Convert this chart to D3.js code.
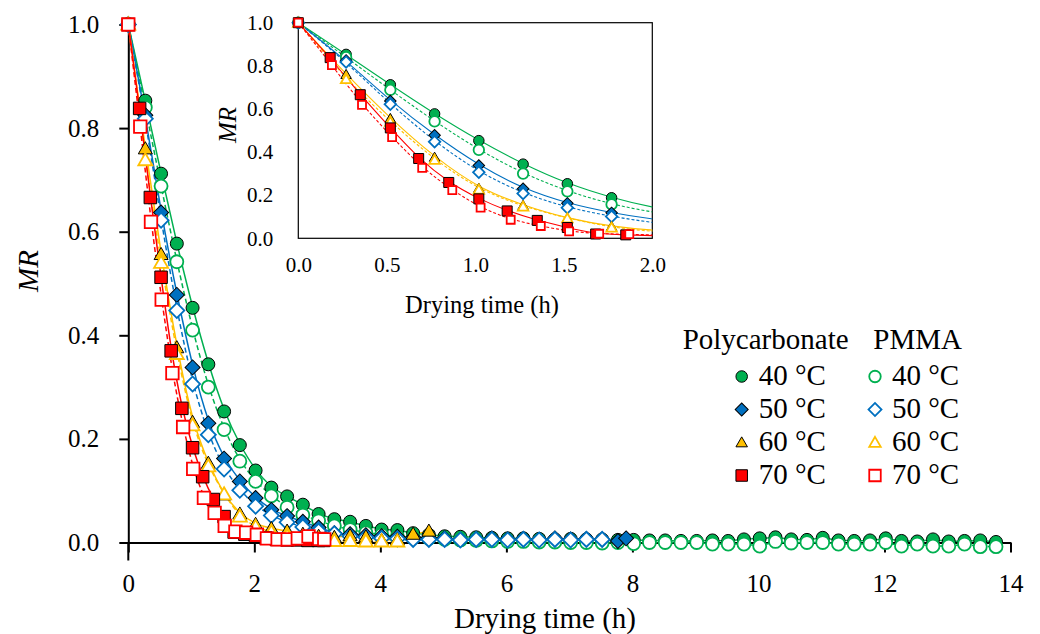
<!DOCTYPE html>
<html>
<head>
<meta charset="utf-8">
<script src="https://cdn.jsdelivr.net/npm/d3@7/dist/d3.min.js"></script>
<style>
  body { margin: 0; background: #fff; }
  svg text { font-family: "Liberation Serif", serif; fill: #000; }
</style>
</head>
<body>
<svg id="chart" width="1040" height="634"></svg>
<script>
// ---- data (drying time in h, moisture ratio MR) ----
var t40 = [0, 0.27, 0.52, 0.77, 1.02, 1.27, 1.52, 1.77, 2.02, 2.27, 2.52, 2.77, 3.02, 3.27, 3.52, 3.77,
  4.02, 4.27, 4.52, 4.77, 5.02, 5.27, 5.52, 5.77, 6.02, 6.27, 6.52, 6.77, 7.02, 7.27, 7.52, 7.77,
  8.02, 8.27, 8.52, 8.77, 9.02, 9.27, 9.52, 9.77, 10.02, 10.27, 10.52, 10.77, 11.02, 11.27, 11.52, 11.77,
  12.02, 12.27, 12.52, 12.77, 13.02, 13.27, 13.52, 13.77];
var mrPc40 = [1, 0.853, 0.712, 0.577, 0.453, 0.344, 0.253, 0.188, 0.139, 0.106, 0.089, 0.073, 0.055, 0.045, 0.040, 0.032,
  0.025, 0.024, 0.018, 0.015, 0.012, 0.011, 0.010, 0.009, 0.008, 0.008, 0.007, 0.006, 0.007, 0.006, 0.006, 0.005,
  0.005, 0.004, 0.004, 0.003, 0.003, 0.004, 0.003, 0.006, 0.008, 0.010, 0.006, 0.005, 0.009, 0.004, 0.003, 0.004,
  0.008, 0.003, 0.002, 0.006, 0.002, 0.003, 0.004, 0.001];
var mrPm40 = [1, 0.840, 0.688, 0.542, 0.410, 0.300, 0.218, 0.157, 0.118, 0.090, 0.068, 0.053, 0.042, 0.032, 0.025, 0.019,
  0.015, 0.012, 0.010, 0.008, 0.006, 0.005, 0.004, 0.003, 0.002, 0.002, 0.001, 0.001, 0.000, 0.000, -0.001, 0.000,
  -0.002, 0.000, 0.000, 0.000, 0.000, -0.003, -0.003, -0.003, -0.007, 0.002, -0.001, 0.000, 0.000, -0.003, -0.003, -0.003,
  0.000, -0.007, -0.003, -0.007, -0.007, -0.003, -0.008, -0.008];

var tPc50 = [0, 0.27, 0.52, 0.77, 1.02, 1.27, 1.52, 1.77, 2.02, 2.27, 2.52, 2.77, 3.02, 3.27, 3.52, 3.77,
  4.02, 4.27, 4.52, 4.77, 5.02, 5.27, 5.52, 5.77, 6.02, 6.27, 6.52, 6.77, 7.02, 7.27, 7.52, 7.77, 7.90];
var mrPc50 = [1, 0.825, 0.637, 0.478, 0.338, 0.230, 0.162, 0.118, 0.086, 0.063, 0.051, 0.040, 0.029, 0.018, 0.016, 0.014,
  0.012, 0.011, 0.010, 0.009, 0.008, 0.005, 0.006, 0.008, 0.006, 0.007, 0.005, 0.008, 0.006, 0.007, 0.006, 0.003, 0.008];
var tPm50 = [0, 0.27, 0.52, 0.77, 1.02, 1.27, 1.52, 1.77, 2.02, 2.27, 2.52, 2.77, 3.02, 3.27, 3.52, 3.77,
  4.02, 4.27, 4.52, 4.77, 5.02, 5.27, 5.52, 5.77, 6.02, 6.27, 6.52, 6.77, 7.02, 7.27, 7.52];
var mrPm50 = [1, 0.818, 0.622, 0.448, 0.306, 0.208, 0.142, 0.101, 0.070, 0.052, 0.039, 0.030, 0.022, 0.017, 0.012, 0.010,
  0.008, 0.007, 0.006, 0.006, 0.006, 0.005, 0.006, 0.006, 0.005, 0.006, 0.005, 0.006, 0.005, 0.006, 0.006];

var tPc60 = [0, 0.27, 0.52, 0.77, 1.02, 1.27, 1.52, 1.77, 2.02, 2.27, 2.52, 2.77, 3.02, 3.27, 3.52, 3.77,
  4.02, 4.27, 4.52, 4.77];
var mrPc60 = [1, 0.760, 0.556, 0.376, 0.232, 0.153, 0.092, 0.055, 0.035, 0.027, 0.022, 0.016, 0.012, 0.010, 0.013, 0.011,
  0.004, 0.005, 0.016, 0.022];
var tPm60 = [0, 0.27, 0.52, 0.77, 1.02, 1.27, 1.52, 1.77, 2.02, 2.27, 2.52, 2.77, 3.02, 3.27, 3.52, 3.77,
  4.02, 4.27];
var mrPm60 = [1, 0.738, 0.540, 0.364, 0.226, 0.147, 0.093, 0.050, 0.030, 0.020, 0.012, 0.008, 0.005, 0.003, 0.003, 0.002,
  0.002, 0.002];

var tPc70 = [0, 0.18, 0.35, 0.52, 0.68, 0.85, 1.02, 1.18, 1.35, 1.52, 1.68, 1.85, 2.02, 2.18, 2.35, 2.52,
  2.68, 2.85, 3.02, 3.10];
var mrPc70 = [1, 0.838, 0.666, 0.512, 0.370, 0.259, 0.183, 0.127, 0.083, 0.050, 0.020, 0.016, 0.012, 0.009, 0.006, 0.005,
  0.005, 0.004, 0.004, 0.004];
var tPm70 = [0, 0.19, 0.36, 0.53, 0.70, 0.87, 1.03, 1.20, 1.37, 1.53, 1.70, 1.87, 2.04, 2.20, 2.37, 2.53,
  2.69, 2.86, 3.03, 3.11];
var mrPm70 = [1, 0.803, 0.619, 0.469, 0.327, 0.223, 0.142, 0.086, 0.057, 0.032, 0.021, 0.019, 0.015, 0.008, 0.006, 0.006,
  0.008, 0.012, 0.007, 0.006];

var temps = ["40 °C", "50 °C", "60 °C", "70 °C"];
var materials = ["Polycarbonate", "PMMA"];
var xTicks = [0, 2, 4, 6, 8, 10, 12, 14];
var yTicks = [0, 0.2, 0.4, 0.6, 0.8, 1.0];
var insetXTicks = [0, 0.5, 1.0, 1.5, 2.0];

var colors = ["#00B050", "#0070C0", "#FFC000", "#FF0000"];
var shapes = ["circle", "diamond", "triangle", "square"];

// drawing order as in the figure: later series sit on top
var series = [
  { t: t40,   mr: mrPc40, k: 0, open: false },
  { t: t40,   mr: mrPm40, k: 0, open: true },
  { t: tPc50, mr: mrPc50, k: 1, open: false },
  { t: tPm50, mr: mrPm50, k: 1, open: true },
  { t: tPc60, mr: mrPc60, k: 2, open: false },
  { t: tPm60, mr: mrPm60, k: 2, open: true },
  { t: tPc70, mr: mrPc70, k: 3, open: false },
  { t: tPm70, mr: mrPm70, k: 3, open: true }
];
series.forEach(function (s) {
  s.points = s.t.map(function (t, i) { return { t: t, mr: s.mr[i] }; });
});

var svg = d3.select("#chart");

// marker path for a given shape and size (size ~ width in px)
function markerPath(shape, w) {
  if (shape === "circle") return d3.symbol(d3.symbolCircle, Math.PI * w * w / 4)();
  if (shape === "square") return d3.symbol(d3.symbolSquare, w * w)();
  if (shape === "diamond") return d3.symbol(d3.symbolSquare, w * w / 2)();
  return d3.symbol(d3.symbolTriangle, Math.sqrt(3) / 4 * w * w)();
}

function drawMarkers(g, pts, s, xs, ys, w) {
  var shape = shapes[s.k];
  g.selectAll(null)
    .data(pts)
    .enter()
    .append("path")
    .attr("d", markerPath(shape, w))
    .attr("transform", function (d) {
      var tr = "translate(" + xs(d.t) + "," + ys(d.mr) + ")";
      if (shape === "diamond") tr += " rotate(45)";
      if (shape === "triangle") tr += " translate(0,1)";
      return tr;
    })
    .attr("fill", s.open ? "#fff" : colors[s.k])
    .attr("stroke", s.open ? colors[s.k] : "#000")
    .attr("stroke-width", s.open ? 1.8 : 1);
}

//---- main chart ----
var x = d3.scaleLinear().domain([0, 14]).range([128.3, 1010.5]);
var y = d3.scaleLinear().domain([0, 1]).range([542.5, 24.5]);

var line = d3.line()
  .x(function (d) { return x(d.t); })
  .y(function (d) { return y(d.mr); })
  .curve(d3.curveBasis);

var yAxis = svg.append("g")
  .attr("transform", "translate(" + x(0) + ",0)")
  .call(d3.axisLeft(y).tickValues(yTicks).tickSize(9).tickSizeOuter(0).tickPadding(20).tickFormat(d3.format(".1f")));
var xAxis = svg.append("g")
  .attr("transform", "translate(0," + y(0) + ")")
  .call(d3.axisBottom(x).tickValues(xTicks).tickSize(10).tickSizeOuter(0).tickPadding(22).tickFormat(d3.format("d")));
[xAxis, yAxis].forEach(function (a) {
  a.selectAll("path, line").attr("stroke", "#000").attr("stroke-width", 2);
  a.selectAll("text").attr("font-family", "Liberation Serif").attr("font-size", 25).attr("fill", "#000");
});
// the vertical axis runs a little below the horizontal one
svg.append("line")
  .attr("x1", x(0)).attr("x2", x(0))
  .attr("y1", y(0)).attr("y2", y(0) + 18)
  .attr("stroke", "#000").attr("stroke-width", 2);

svg.append("text")
  .attr("x", 545).attr("y", 628)
  .attr("text-anchor", "middle")
  .attr("font-size", 29)
  .text("Drying time (h)");
svg.append("text")
  .attr("transform", "translate(38,271) rotate(-90)")
  .attr("text-anchor", "middle")
  .attr("font-size", 29)
  .attr("font-style", "italic")
  .text("MR");

var mainLines = svg.append("g");
series.forEach(function (s) {
  mainLines.append("path")
    .datum(s.points)
    .attr("d", line)
    .attr("fill", "none")
    .attr("stroke", colors[s.k])
    .attr("stroke-width", 1.5)
    .attr("stroke-dasharray", s.open ? "5,3" : null);
});
var mainSize = [13, 15, 14, 12.5];
var mainMarks = svg.append("g");
series.forEach(function (s) {
  drawMarkers(mainMarks.append("g"), s.points, s, x, y, mainSize[s.k]);
});

//---- inset ----
var xi = d3.scaleLinear().domain([0, 2]).range([298.3, 652.3]);
var yi = d3.scaleLinear().domain([0, 1]).range([238.3, 22.7]);

svg.append("rect")
  .attr("x", xi(0)).attr("y", yi(1))
  .attr("width", xi(2) - xi(0)).attr("height", yi(0) - yi(1))
  .attr("fill", "#fff").attr("stroke", "#000").attr("stroke-width", 1.2);

svg.append("clipPath").attr("id", "insetClip")
  .append("rect")
  .attr("x", xi(0)).attr("y", yi(1))
  .attr("width", xi(2) - xi(0)).attr("height", yi(0) - yi(1));

var iyAxis = svg.append("g")
  .attr("transform", "translate(" + xi(0) + ",0)")
  .call(d3.axisLeft(yi).tickValues(yTicks).tickSize(0).tickPadding(25).tickFormat(d3.format(".1f")));
var ixAxis = svg.append("g")
  .attr("transform", "translate(0," + yi(0) + ")")
  .call(d3.axisBottom(xi).tickValues(insetXTicks).tickSize(0).tickPadding(19).tickFormat(d3.format(".1f")));
[iyAxis, ixAxis].forEach(function (a) {
  a.select(".domain").remove();
  a.selectAll("text").attr("font-family", "Liberation Serif").attr("font-size", 21).attr("fill", "#000");
});

svg.append("text")
  .attr("x", 482).attr("y", 313)
  .attr("text-anchor", "middle")
  .attr("font-size", 24.5)
  .text("Drying time (h)");
svg.append("text")
  .attr("transform", "translate(236,125) rotate(-90)")
  .attr("text-anchor", "middle")
  .attr("font-size", 25)
  .attr("font-style", "italic")
  .text("MR");

var lineInset = d3.line()
  .x(function (d) { return xi(d.t); })
  .y(function (d) { return yi(d.mr); })
  .curve(d3.curveBasis);

var insetLines = svg.append("g").attr("clip-path", "url(#insetClip)");
series.forEach(function (s) {
  insetLines.append("path")
    .datum(s.points.filter(function (d) { return d.t <= 3; }))
    .attr("d", lineInset)
    .attr("fill", "none")
    .attr("stroke", colors[s.k])
    .attr("stroke-width", 1.1)
    .attr("stroke-dasharray", s.open ? "3,2" : null);
});
var insetMarks = svg.append("g");
series.forEach(function (s) {
  var w = s.k === 3 ? (s.open ? 8 : 10) : (s.k === 1 ? 11.5 : 10.5);
  drawMarkers(insetMarks.append("g"), s.points.filter(function (d) { return d.t <= 2; }), s, xi, yi, w);
});

//---- legend ----
var legend = svg.append("g");
legend.append("text").attr("x", 682.7).attr("y", 349).attr("font-size", 29).text(materials[0]);
legend.append("text").attr("x", 873.3).attr("y", 349).attr("font-size", 29).text(materials[1]);
var colX = [741.7, 875];
temps.forEach(function (tp, k) {
  var base = 385 + k * 33;
  [false, true].forEach(function (open, c) {
    var s = { k: k, open: open };
    drawMarkers(legend.append("g"), [{ t: colX[c], mr: base - 8.5 }], s,
      function (v) { return v; }, function (v) { return v; }, k === 1 ? 13 : 11.5);
    legend.append("text")
      .attr("x", colX[c] + 17).attr("y", base)
      .attr("font-size", 29)
      .text(tp);
  });
});
</script>
</body>
</html>
